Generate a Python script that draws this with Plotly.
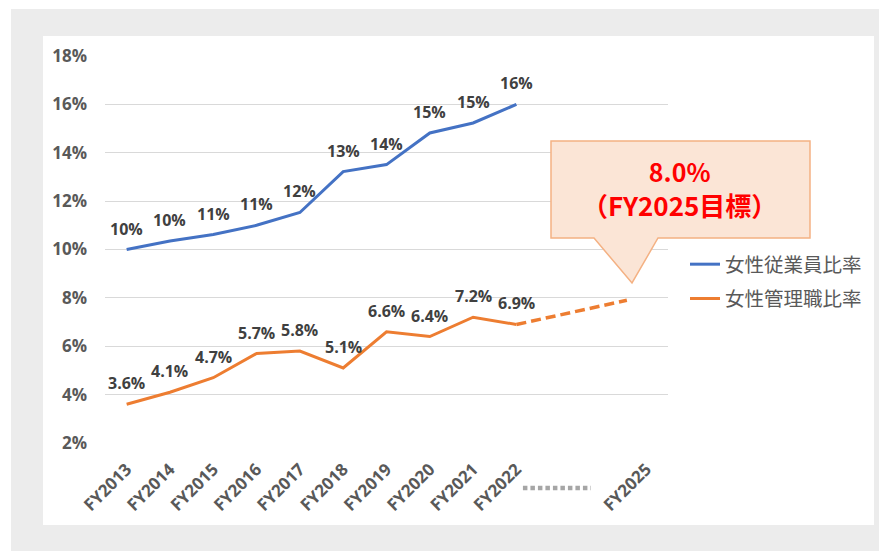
import plotly.graph_objects as go

# ---------------- data ----------------
categories = ["FY2013", "FY2014", "FY2015", "FY2016", "FY2017", "FY2018",
              "FY2019", "FY2020", "FY2021", "FY2022", "", "", "FY2025"]
cat_index = list(range(len(categories)))
tick_idx = [0, 1, 2, 3, 4, 5, 6, 7, 8, 9, 12]
tick_text = [categories[i] for i in tick_idx]

employee_ratio = [10.0, 10.35, 10.62, 11.0, 11.53, 13.22, 13.51, 14.82, 15.23, 16.0]
employee_labels = ["10%", "10%", "11%", "11%", "12%", "13%", "14%", "15%", "15%", "16%"]

manager_ratio = [3.6, 4.1, 4.7, 5.7, 5.8, 5.1, 6.6, 6.4, 7.2, 6.9]
manager_labels = ["3.6%", "4.1%", "4.7%", "5.7%", "5.8%", "5.1%", "6.6%", "6.4%", "7.2%", "6.9%"]

target_x = [9, 11.55]
target_y = [6.9, 7.9]
target_text = "8.0%"
target_sub = "（FY2025目標）"

y_ticks = [2, 4, 6, 8, 10, 12, 14, 16, 18]
y_tick_text = [f"{v}%" for v in y_ticks]

# ---------------- layout helpers (page pixels; page body has 8px margin) ----------------
OFF = 8
PAGE_W, PAGE_H = 887, 551
W, H = PAGE_W - OFF, PAGE_H - OFF
L, R, T, B = 105, 668, 56, 443   # plot area in page pixels


def px(x):
    return (x - L) / (R - L)


def py(y):
    return (B - y) / (B - T)


BLUE = "#4472C4"
ORANGE = "#ED7D31"
LABEL_FONT = dict(family="Open Sans", size=16, color="#404040", weight="bold")

fig = go.Figure()

fig.add_trace(go.Scatter(
    x=cat_index[:len(employee_ratio)], y=employee_ratio, mode="lines",
    name="女性従業員比率", legendgroup="a", line=dict(color=BLUE, width=3), hoverinfo="skip"))
fig.add_trace(go.Scatter(
    x=cat_index[:len(manager_ratio)], y=manager_ratio, mode="lines",
    name="女性管理職比率", legendgroup="b", line=dict(color=ORANGE, width=3), hoverinfo="skip"))
fig.add_trace(go.Scatter(
    x=target_x, y=target_y, mode="lines", showlegend=False, legendgroup="b",
    line=dict(color=ORANGE, width=3.5, dash="10px,5px"), hoverinfo="skip"))

annotations = []
for i, (v, t) in enumerate(zip(employee_ratio, employee_labels)):
    annotations.append(dict(x=i, y=v, xref="x", yref="y", text=t, showarrow=False,
                            yshift=21, font=LABEL_FONT))
for i, (v, t) in enumerate(zip(manager_ratio, manager_labels)):
    annotations.append(dict(x=i, y=v, xref="x", yref="y", text=t, showarrow=False,
                            yshift=21, font=LABEL_FONT))

# callout text (single two-line annotation)
CALLOUT_FONT = dict(family="Noto Sans CJK JP", size=26, color="#FF0000", weight="bold")
annotations.append(dict(x=px(679), y=py(188), xref="paper", yref="paper",
                        text=f"<span style='font-size:25px'>{target_text}</span><br>{target_sub}",
                        xanchor="center", yanchor="middle", align="center",
                        showarrow=False, font=CALLOUT_FONT))

# callout shape path (pixel -> paper)
callout_pts = [(551, 141), (810, 141), (810, 238), (658, 238), (632, 283), (594, 238), (551, 238)]
path = "M " + " L ".join(f"{px(x):.5f},{py(y):.5f}" for x, y in callout_pts) + " Z"

shapes = [
    # gray frame
    dict(type="rect", xref="paper", yref="paper", x0=px(11), x1=px(900), y0=py(9), y1=py(560),
         fillcolor="#ECECEC", line=dict(width=0), layer="below"),
    # white panel
    dict(type="rect", xref="paper", yref="paper", x0=px(43), x1=px(874), y0=py(36), y1=py(525),
         fillcolor="#FFFFFF", line=dict(width=0), layer="below"),
    # callout
    dict(type="path", xref="paper", yref="paper", path=path,
         fillcolor="#FBE5D6", line=dict(color="#F4B183", width=1.5), layer="above"),
    # dotted separator on x axis
    dict(type="line", xref="x", yref="paper", x0=9.15, x1=10.72, y0=py(488), y1=py(488),
         line=dict(color="#A6A6A6", width=4.5, dash="4.5px,3px")),
]

fig.update_layout(
    width=W, height=H,
    margin=dict(l=L - OFF, r=PAGE_W - R, t=T - OFF, b=PAGE_H - B, pad=0),
    paper_bgcolor="white", plot_bgcolor="rgba(0,0,0,0)",
    showlegend=True,
    legend=dict(x=px(685), y=py(245), xanchor="left", yanchor="top",
                font=dict(family="Noto Sans CJK JP", size=19.5, color="#595959"),
                bgcolor="rgba(0,0,0,0)", tracegroupgap=6, traceorder="grouped"),
    annotations=annotations,
    shapes=shapes,
    xaxis=dict(range=[-0.5, 12.5], tickmode="array", tickvals=tick_idx, ticktext=tick_text,
               tickangle=-45, showgrid=False, zeroline=False, showline=False,
               ticklabelstandoff=12,
               tickfont=dict(family="Open Sans", size=17, color="#595959", weight="bold")),
    yaxis=dict(range=[2, 18], tickmode="array", tickvals=y_ticks, ticktext=y_tick_text,
               showgrid=True, gridcolor="#D9D9D9", gridwidth=1, zeroline=False, showline=False,
               ticklabelstandoff=17,
               tickfont=dict(family="Open Sans", size=17, color="#595959", weight="bold")),
)

fig.write_html("out.html")
